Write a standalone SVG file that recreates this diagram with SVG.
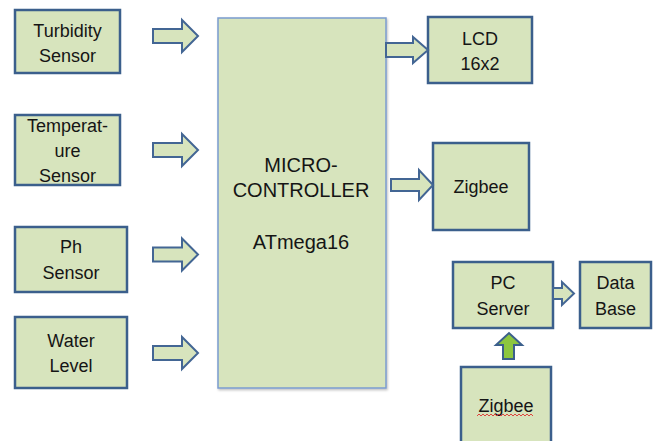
<svg xmlns="http://www.w3.org/2000/svg" width="655" height="441" viewBox="0 0 655 441">
<defs>
<style>
.box{fill:#d7e4bd;stroke:#3b5f8c;stroke-width:2.5}
.mcu{fill:#d7e4bd;stroke:#7b9ccf;stroke-width:1.5}
.arr{fill:#d7e4bd;stroke:#436694;stroke-width:2;stroke-linejoin:miter}
.garr{fill:#8cc63f;stroke:#3b5f8c;stroke-width:2}
.t{font-family:"Liberation Sans",Arial,sans-serif;font-size:18px;fill:#151515;text-anchor:middle}
.tm{font-family:"Liberation Sans",Arial,sans-serif;font-size:20px;fill:#151515;text-anchor:middle}
</style>
<filter id="sh" x="-10%" y="-10%" width="120%" height="120%">
<feDropShadow dx="1" dy="1.5" stdDeviation="1" flood-color="#000" flood-opacity="0.25"/>
</filter>
</defs>

<g id="turbidity">
<rect class="box" x="15" y="10" width="105" height="63"/>
<text class="t" x="67.5" y="37">Turbidity</text>
<text class="t" x="67.5" y="62">Sensor</text>
</g>
<g id="temperature">
<rect class="box" x="15" y="115" width="105" height="70"/>
<text class="t" x="67.5" y="132">Temperat-</text>
<text class="t" x="67.5" y="157">ure</text>
<text class="t" x="67.5" y="182">Sensor</text>
</g>
<g id="ph">
<rect class="box" x="15" y="227" width="112" height="65"/>
<text class="t" x="71" y="253">Ph</text>
<text class="t" x="71" y="279">Sensor</text>
</g>
<g id="water">
<rect class="box" x="15" y="317" width="112" height="71"/>
<text class="t" x="71" y="347">Water</text>
<text class="t" x="71" y="372">Level</text>
</g>
<g id="mcu">
<rect class="mcu" x="218" y="18" width="168" height="370" filter="url(#sh)"/>
<text class="tm" x="301" y="172">MICRO-</text>
<text class="tm" x="301" y="197">CONTROLLER</text>
<text class="tm" x="301" y="249">ATmega16</text>
</g>
<g id="lcd">
<rect class="box" x="428" y="17" width="104" height="66"/>
<text class="t" x="480" y="45">LCD</text>
<text class="t" x="480" y="70">16x2</text>
</g>
<g id="zigbee1">
<rect class="box" x="433" y="143" width="96" height="87"/>
<text class="t" x="481" y="193">Zigbee</text>
</g>
<g id="pcserver">
<rect class="box" x="453" y="262" width="100" height="66"/>
<text class="t" x="503" y="289">PC</text>
<text class="t" x="503" y="315">Server</text>
</g>
<g id="database">
<rect class="box" x="580" y="262" width="71" height="66"/>
<text class="t" x="615.5" y="289">Data</text>
<text class="t" x="615.5" y="315">Base</text>
</g>
<g id="zigbee2">
<rect class="box" x="461" y="367" width="90" height="80"/>
<text class="t" x="506" y="412">Zigbee</text>
<path d="M477,416 l2,-2 l2,2 l2,-2 l2,2 l2,-2 l2,2 l2,-2 l2,2 l2,-2 l2,2 l2,-2 l2,2 l2,-2 l2,2 l2,-2 l2,2 l2,-2 l2,2 l2,-2 l2,2 l2,-2 l2,2 l2,-2 l2,2 l2,-2 l2,2 l2,-2 l2,2" fill="none" stroke="#e03030" stroke-width="0.9"/>
</g>

<g id="connectors">
<path class="arr" d="M153,29 H182 V20 L198,36 L182,52 V43 H153 Z"/>
<path class="arr" d="M153,143 H182 V134 L198,150 L182,166 V157 H153 Z"/>
<path class="arr" d="M153,247.5 H182 V238.5 L198,254.5 L182,270.5 V261.5 H153 Z"/>
<path class="arr" d="M153,346 H182 V337 L198,353 L182,369 V360 H153 Z"/>
<path class="arr" d="M386,43 H413 V37 L428,50 L413,63 V57 H386 Z"/>
<path class="arr" d="M391,179 H419 V170 L433,185 L419,200 V191 H391 Z"/>
<path class="arr" d="M553,288 H562 V282 L574,293.5 L562,305 V299 H553 Z"/>
<path class="garr" d="M503,359 V345 H496 L509,333 L522,345 H514 V359 Z"/>
</g>
</svg>
